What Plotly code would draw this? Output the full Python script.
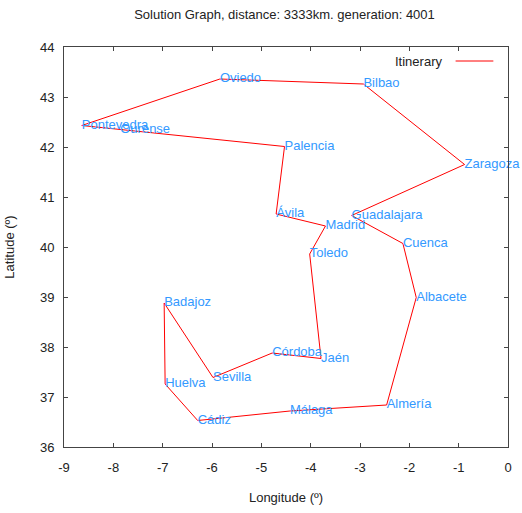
import plotly.graph_objects as go

cities = ["Pontevedra", "Oviedo", "Bilbao", "Zaragoza", "Guadalajara", "Cuenca",
          "Albacete", "Almería", "Málaga", "Cádiz", "Huelva", "Badajoz", "Sevilla",
          "Córdoba", "Jaén", "Toledo", "Madrid", "Ávila", "Palencia", "Ourense"]
lon = [-8.64, -5.84, -2.93, -0.88, -3.17, -2.13, -1.86, -2.46, -4.42, -6.29,
       -6.95, -6.97, -5.98, -4.78, -3.79, -4.02, -3.70, -4.70, -4.53, -7.86]
lat = [42.43, 43.36, 43.26, 41.65, 40.63, 40.07, 38.99, 36.84, 36.72, 36.53,
       37.26, 38.88, 37.39, 37.88, 37.77, 39.86, 40.42, 40.66, 42.01, 42.34]

x_ticks = [-9, -8, -7, -6, -5, -4, -3, -2, -1, 0]
y_ticks = [36, 37, 38, 39, 40, 41, 42, 43, 44]

route_x = lon + [lon[0]]
route_y = lat + [lat[0]]

font = "Liberation Sans, Arial, sans-serif"
fig = go.Figure()
fig.add_trace(go.Scatter(x=route_x, y=route_y, mode="lines",
                         line=dict(color="#ff0000", width=1), name="Itinerary",
                         showlegend=False, hoverinfo="skip"))
fig.add_trace(go.Scatter(x=lon, y=lat, mode="text", text=cities,
                         textposition="middle right", cliponaxis=False,
                         textfont=dict(color="#3399ff", size=13, family=font),
                         showlegend=False))

fig.add_annotation(xref="paper", yref="paper", x=0.855, y=0.965, xanchor="right",
                   yanchor="middle", text="Itinerary", showarrow=False,
                   font=dict(size=13, color="#222222", family=font))
fig.add_shape(type="line", xref="paper", yref="paper", x0=0.882, x1=0.967,
              y0=0.965, y1=0.965, line=dict(color="#ff0000", width=1))

axis_common = dict(showline=True, linecolor="#444444", linewidth=1, mirror="allticks",
                   ticks="inside", ticklen=4, tickcolor="#444444", showgrid=False,
                   zeroline=False, automargin=False,
                   tickfont=dict(size=13, color="#222222", family=font))
fig.update_xaxes(range=[-9, 0], tickvals=x_ticks, ticktext=[str(v) for v in x_ticks],
                 ticklabelstandoff=8,
                 title=dict(text="Longitude (º)", standoff=19,
                            font=dict(size=13, color="#222222", family=font)),
                 **axis_common)
fig.update_yaxes(range=[36, 44], tickvals=y_ticks, ticktext=[str(v) for v in y_ticks],
                 ticklabelstandoff=6,
                 title=dict(text="Latitude (º)", standoff=22,
                            font=dict(size=13, color="#222222", family=font)),
                 **axis_common)
fig.update_layout(width=522, height=513, margin=dict(l=64, r=14, t=47, b=66),
                  plot_bgcolor="white", paper_bgcolor="white",
                  title=dict(text="Solution Graph, distance: 3333km. generation: 4001",
                             x=0.545, xanchor="center", y=0.972, yanchor="middle",
                             font=dict(size=13, color="#222222", family=font)),
                  font=dict(family=font))
fig.write_html("out.html", config={"displayModeBar": False},
               post_script="document.body.style.margin='0';document.body.style.overflow='hidden';")
